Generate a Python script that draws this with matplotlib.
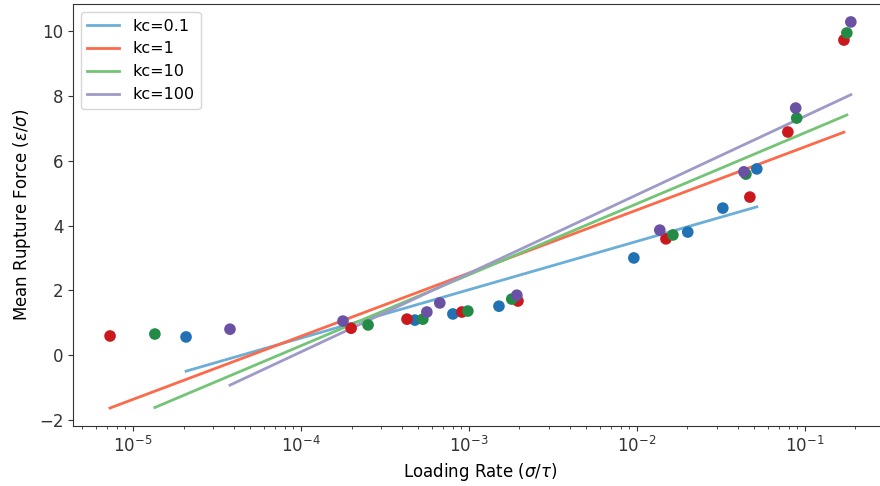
import numpy as np
import matplotlib
matplotlib.use("Agg")
import matplotlib.pyplot as plt

# loading rates (sigma/tau) and mean rupture forces (eps/sigma) for each kc
rate_kc01 = [2.07e-5, 4.77e-4, 8.03e-4, 1.51e-3, 9.6e-3, 2.01e-2, 3.25e-2, 5.18e-2]
force_kc01 = [0.56, 1.08, 1.27, 1.51, 3.00, 3.80, 4.54, 5.75]

rate_kc1 = [7.3e-6, 1.99e-4, 4.28e-4, 9.08e-4, 1.96e-3, 1.49e-2, 4.71e-2, 7.93e-2, 1.71e-1]
force_kc1 = [0.59, 0.83, 1.11, 1.33, 1.67, 3.59, 4.88, 6.89, 9.73]

rate_kc10 = [1.35e-5, 2.51e-4, 5.32e-4, 9.86e-4, 1.80e-3, 1.64e-2, 4.46e-2, 8.95e-2, 1.78e-1]
force_kc10 = [0.65, 0.93, 1.11, 1.36, 1.73, 3.71, 5.59, 7.32, 9.95]

rate_kc100 = [3.78e-5, 1.78e-4, 5.62e-4, 6.71e-4, 1.93e-3, 1.37e-2, 4.34e-2, 8.83e-2, 1.88e-1]
force_kc100 = [0.80, 1.05, 1.33, 1.61, 1.85, 3.86, 5.66, 7.63, 10.29]

labels = ["kc=0.1", "kc=1", "kc=10", "kc=100"]
line_colors = ["#6baed6", "#fb6a4a", "#74c476", "#9e9ac8"]
point_colors = ["#2171b5", "#cb181d", "#238b45", "#6a51a3"]

rates = [rate_kc01, rate_kc1, rate_kc10, rate_kc100]
forces = [force_kc01, force_kc1, force_kc10, force_kc100]

plt.rcParams["font.size"] = 12
plt.rcParams["axes.edgecolor"] = "#333333"
plt.rcParams["xtick.color"] = "#333333"
plt.rcParams["ytick.color"] = "#333333"

fig = plt.figure(figsize=(8.8, 4.86), dpi=100)
ax = fig.add_axes([0.083, 0.1235, 0.926, 0.868])

# Bell-Evans style fit: force linear in log(rate)
for r, f, lab, lc in zip(rates, forces, labels, line_colors):
    lr = np.log10(r)
    b, a = np.polyfit(lr, f, 1)
    xs = np.array([min(lr), max(lr)])
    ax.plot(10 ** xs, a + b * xs, color=lc, lw=2, label=lab)

for r, f, pc in zip(rates, forces, point_colors):
    ax.scatter(r, f, s=70, color=pc, edgecolors="none", zorder=3)

ax.set_xscale("log")
ax.set_xlim(10 ** -5.357, 10 ** -0.505)
ax.set_ylim(-2.19, 10.84)
ax.set_yticks([-2, 0, 2, 4, 6, 8, 10])
ax.set_xlabel(r"Loading Rate ($\sigma/\tau$)")
ax.set_ylabel(r"Mean Rupture Force ($\varepsilon/\sigma$)")
ax.legend(loc="upper left", fontsize=11.5)

fig.savefig("out.png", dpi=100)
